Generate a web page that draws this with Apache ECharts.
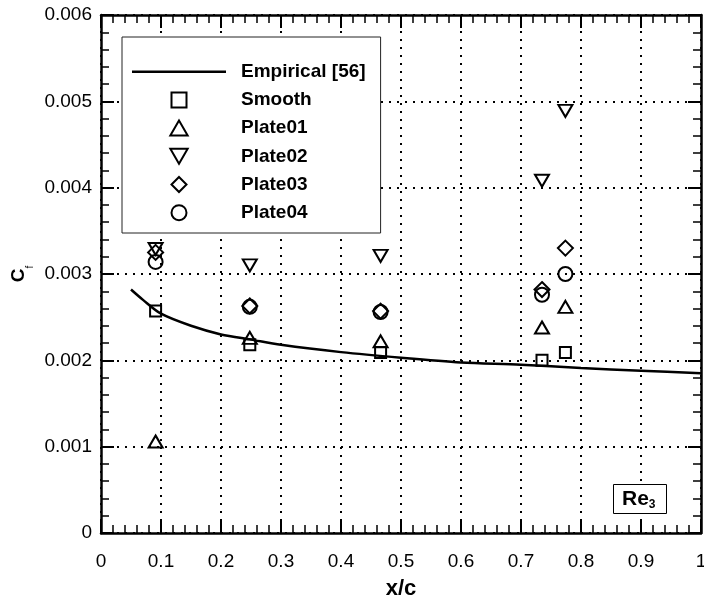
<!DOCTYPE html>
<html>
<head>
<meta charset="utf-8">
<script src="https://cdn.jsdelivr.net/npm/echarts@6/dist/echarts.min.js"></script>
<style>
  html, body { margin: 0; padding: 0; background: #fff; }
  #chart { width: 704px; height: 605px; }
</style>
</head>
<body>
<div id="chart"></div>
<script>
// Tick labels
const xTickLabels = ['0', '0.1', '0.2', '0.3', '0.4', '0.5', '0.6', '0.7', '0.8', '0.9', '1'];
const yTickLabels = ['0', '0.001', '0.002', '0.003', '0.004', '0.005', '0.006'];

// Measurement stations (x/c)
const stations = [0.091, 0.248, 0.466, 0.735, 0.774];

// Skin friction coefficient at each station
const cfSmooth  = [0.00257, 0.00218, 0.00209, 0.00200, 0.00209];
const cfPlate01 = [0.00106, 0.00226, 0.00222, 0.00238, 0.00262];
const cfPlate02 = [0.00329, 0.00310, 0.00321, 0.00408, 0.00489];
const cfPlate03 = [0.00325, 0.00263, 0.00257, 0.00282, 0.00330];
const cfPlate04 = [0.00314, 0.00262, 0.00256, 0.00276, 0.00300];

// Empirical correlation curve
const empiricalX  = [0.05, 0.07, 0.1, 0.15, 0.2, 0.25, 0.3, 0.4, 0.5, 0.6, 0.7, 0.8, 0.9, 1.0];
const empiricalCf = [0.00282, 0.00270, 0.00254, 0.00240, 0.00230, 0.00224, 0.00218, 0.002095, 0.00203, 0.001976, 0.00195, 0.00191, 0.00188, 0.00185];

const FONT = '"Liberation Sans", Arial, Helvetica, sans-serif';
const BLACK = '#000';

// Marker outlines
const SQUARE   = 'path://M0,0 L1,0 L1,1 L0,1 Z';
const TRI_UP   = 'path://M1,0 L2,1.732 L0,1.732 Z';
const TRI_DOWN = 'path://M0,0 L2,0 L1,1.732 Z';
const DIAMOND  = 'path://M1,0 L2,1 L1,2 L0,1 Z';
const LINE_KEY = 'path://M0,0 L94,0 L94,2.5 L0,2.5 Z';

const pair = (xs, ys) => xs.map((x, i) => [x, ys[i]]);

const axisLine = { show: true, onZero: false, lineStyle: { color: BLACK, width: 2.5 } };
const axisTick = { show: true, inside: true, length: 13, lineStyle: { color: BLACK, width: 2 } };
const minorTick = { show: true, splitNumber: 5, length: 8, lineStyle: { color: BLACK, width: 1.5 } };
const gridLine = { show: true, lineStyle: { color: BLACK, width: 2, type: [2, 6] } };

const hollow = { color: 'transparent', borderColor: BLACK, borderWidth: 2, opacity: 1 };

const chart = echarts.init(document.getElementById('chart'), null, { renderer: 'canvas' });

chart.setOption({
  animation: false,
  backgroundColor: '#fff',
  grid: { left: 101, right: 3, top: 15, bottom: 72, containLabel: false, outerBoundsMode: 'none' },
  title: {
    text: '{a|Re}{b|3}',
    left: 613,
    top: 483,
    padding: [5, 11, 3, 9],
    borderColor: BLACK,
    borderWidth: 1,
    backgroundColor: '#fff',
    textStyle: {
      rich: {
        a: { fontFamily: FONT, fontSize: 21, fontWeight: 'bold', color: BLACK, lineHeight: 23 },
        b: { fontFamily: FONT, fontSize: 12, fontWeight: 'bold', color: BLACK, lineHeight: 6, verticalAlign: 'bottom' }
      }
    }
  },
  legend: {
    orient: 'vertical',
    left: 122,
    top: 37,
    padding: [24.7, 15, 10.3, 10],
    itemWidth: 94,
    itemHeight: 15,
    itemGap: 8.2,
    symbolKeepAspect: true,
    backgroundColor: '#fff',
    borderColor: '#222',
    borderWidth: 1,
    borderRadius: 0,
    selectedMode: false,
    textStyle: { fontFamily: FONT, fontSize: 19, fontWeight: 'bold', color: BLACK, lineHeight: 20, padding: [0, 0, 0, 10] },
    data: [
      { name: 'Empirical [56]', icon: LINE_KEY, itemStyle: { color: BLACK, borderWidth: 0 } },
      'Smooth', 'Plate01', 'Plate02', 'Plate03', 'Plate04'
    ]
  },
  xAxis: [
    {
      type: 'value', min: 0, max: 1, interval: 0.1, position: 'bottom',
      axisLine, axisTick, minorTick,
      splitLine: gridLine,
      axisLabel: {
        margin: 19, fontFamily: FONT, fontSize: 19, color: BLACK,
        formatter: v => xTickLabels[Math.round(v * 10)]
      },
      name: 'x/c', nameLocation: 'middle', nameGap: 45, nameMoveOverlap: false,
      nameTextStyle: { fontFamily: FONT, fontSize: 22, fontWeight: 'bold', color: BLACK }
    },
    {
      type: 'value', min: 0, max: 1, interval: 0.1, position: 'top',
      axisLine, axisTick, minorTick,
      splitLine: { show: false }, axisLabel: { show: false }
    }
  ],
  yAxis: [
    {
      type: 'value', min: 0, max: 0.006, interval: 0.001, position: 'left',
      axisLine, axisTick, minorTick,
      splitLine: gridLine,
      axisLabel: {
        margin: 9, fontFamily: FONT, fontSize: 19, color: BLACK,
        formatter: v => yTickLabels[Math.round(v * 1000)]
      },
      name: '{a|C}{b|f}', nameLocation: 'middle', nameRotate: 90, nameGap: 66, nameMoveOverlap: false,
      nameTextStyle: {
        fontFamily: FONT, fontSize: 19, fontWeight: 'bold', color: BLACK,
        rich: {
          a: { fontFamily: FONT, fontSize: 19, fontWeight: 'bold', color: BLACK, lineHeight: 20, verticalAlign: 'top' },
          b: { fontFamily: FONT, fontSize: 10, fontWeight: 'normal', color: BLACK, lineHeight: 26, verticalAlign: 'bottom' }
        }
      }
    },
    {
      type: 'value', min: 0, max: 0.006, interval: 0.001, position: 'right',
      axisLine, axisTick, minorTick,
      splitLine: { show: false }, axisLabel: { show: false }
    }
  ],
  series: [
    {
      name: 'Empirical [56]', type: 'line', xAxisIndex: 0, yAxisIndex: 0,
      data: pair(empiricalX, empiricalCf),
      symbol: 'none', showSymbol: false, smooth: 0.3, z: 2,
      lineStyle: { color: BLACK, width: 2.5 },
      itemStyle: { color: BLACK }
    },
    {
      name: 'Smooth', type: 'scatter', xAxisIndex: 0, yAxisIndex: 0, z: 3,
      symbol: SQUARE, symbolSize: 11, itemStyle: hollow,
      data: pair(stations, cfSmooth)
    },
    {
      name: 'Plate01', type: 'scatter', xAxisIndex: 0, yAxisIndex: 0, z: 3,
      symbol: TRI_UP, symbolSize: [14, 12], itemStyle: hollow,
      data: pair(stations, cfPlate01)
    },
    {
      name: 'Plate02', type: 'scatter', xAxisIndex: 0, yAxisIndex: 0, z: 3,
      symbol: TRI_DOWN, symbolSize: [14, 12], itemStyle: hollow,
      data: pair(stations, cfPlate02)
    },
    {
      name: 'Plate03', type: 'scatter', xAxisIndex: 0, yAxisIndex: 0, z: 3,
      symbol: DIAMOND, symbolSize: 15, itemStyle: hollow,
      data: pair(stations, cfPlate03)
    },
    {
      name: 'Plate04', type: 'scatter', xAxisIndex: 0, yAxisIndex: 0, z: 3,
      symbol: 'circle', symbolSize: 14, itemStyle: hollow,
      data: pair(stations, cfPlate04)
    }
  ]
});
</script>
</body>
</html>
